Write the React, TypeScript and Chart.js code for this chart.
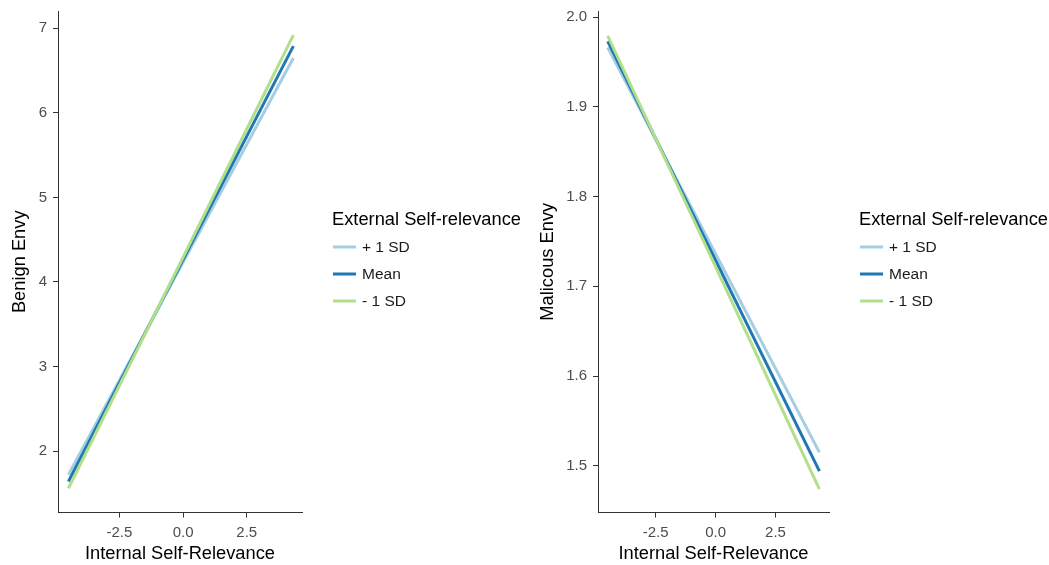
import { useEffect, useRef } from 'react';
import { Chart, registerables } from 'chart.js';

Chart.register(...registerables);

const FONT = '"Liberation Sans", Arial, sans-serif';

// ---- data ----
const xValues = [-4.5, 4.33];
const seriesLabels = ['+ 1 SD', 'Mean', '- 1 SD'];
const seriesColors = ['#a6cee3', '#1f78b4', '#b2df8a'];

const benignPlus = [1.72, 6.65];
const benignMean = [1.64, 6.79];
const benignMinus = [1.56, 6.92];

const maliciousPlus = [1.966, 1.515];
const maliciousMean = [1.973, 1.494];
const maliciousMinus = [1.979, 1.474];

const xTicks = [-2.5, 0, 2.5];
const benignTicks = [2, 3, 4, 5, 6, 7];
const maliciousTicks = [1.5, 1.6, 1.7, 1.8, 1.9, 2.0];

const legendTitle = 'External Self-relevance';
const xTitle = 'Internal Self-Relevance';

type PanelProps = {
  left: number;
  width: number;
  yTitle: string;
  yTitlePad: number;
  yMin: number;
  yMax: number;
  yTicks: number[];
  yDecimals: number;
  xMin: number;
  xMax: number;
  axisX: number;
  plotRight: number;
  series: number[][];
};

const HEIGHT = 565;

function Panel(p: PanelProps) {
  const ref = useRef<HTMLCanvasElement | null>(null);
  useEffect(() => {
    if (!ref.current) return;
    const legendPlugin = {
      id: 'customLegend',
      afterDraw(chart: any) {
        const ctx = chart.ctx as CanvasRenderingContext2D;
        const lx = chart.chartArea.right + 30;
        ctx.save();
        ctx.fillStyle = '#000000';
        ctx.textBaseline = 'middle';
        ctx.textAlign = 'left';
        ctx.font = `18.3px ${FONT}`;
        ctx.fillText(legendTitle, lx, 219.5);
        const ys = [247, 274, 301];
        seriesLabels.forEach((lab, i) => {
          ctx.strokeStyle = seriesColors[i];
          ctx.lineWidth = 3;
          ctx.beginPath();
          ctx.moveTo(lx + 1, ys[i]);
          ctx.lineTo(lx + 24, ys[i]);
          ctx.stroke();
          ctx.fillStyle = '#1a1a1a';
          ctx.font = `15.5px ${FONT}`;
          ctx.fillText(lab, lx + 30, ys[i] + 0.5);
        });
        ctx.restore();
      },
    };
    const order = [3, 2, 1];
    const chart = new Chart(ref.current, {
      type: 'line',
      data: {
        datasets: p.series.map((vals, i) => ({
          label: seriesLabels[i],
          data: xValues.map((x, j) => ({ x, y: vals[j] })),
          borderColor: seriesColors[i],
          backgroundColor: seriesColors[i],
          borderWidth: 3,
          pointRadius: 0,
          tension: 0,
          fill: false,
          order: order[i],
        })),
      },
      options: {
        animation: false,
        responsive: false,
        devicePixelRatio: 1,
        layout: { padding: { left: 0, top: 11, right: p.width - p.plotRight, bottom: 0 } },
        plugins: { legend: { display: false }, tooltip: { enabled: false } },
        scales: {
          x: {
            type: 'linear',
            min: p.xMin,
            max: p.xMax,
            afterBuildTicks: (s: any) => {
              s.ticks = xTicks.map((v) => ({ value: v }));
            },
            afterFit: (s: any) => {
              s.height = HEIGHT - 512.5;
              s.paddingLeft = 0;
              s.paddingRight = 0;
            },
            ticks: {
              callback: (v: any) => Number(v).toFixed(1),
              font: { family: FONT, size: 15 },
              color: '#4d4d4d',
              padding: 6,
              maxRotation: 0,
              autoSkip: false,
            },
            grid: { drawOnChartArea: false, drawTicks: true, tickLength: 5, color: '#333333', tickColor: '#333333' },
            border: { display: true, color: '#333333', width: 1 },
            title: {
              display: true,
              text: xTitle,
              font: { family: FONT, size: 18.3 },
              color: '#000000',
              padding: { top: 0, bottom: 0 },
            },
          },
          y: {
            type: 'linear',
            min: p.yMin,
            max: p.yMax,
            afterBuildTicks: (s: any) => {
              s.ticks = p.yTicks.map((v) => ({ value: v }));
            },
            afterFit: (s: any) => {
              s.width = p.axisX;
              s.paddingTop = 0;
              s.paddingBottom = 0;
            },
            ticks: {
              callback: (v: any) => Number(v).toFixed(p.yDecimals),
              font: { family: FONT, size: 15 },
              color: '#4d4d4d',
              padding: 6,
              autoSkip: false,
            },
            grid: { drawOnChartArea: false, drawTicks: true, tickLength: 5, color: '#333333', tickColor: '#333333' },
            border: { display: true, color: '#333333', width: 1 },
            title: {
              display: true,
              text: p.yTitle,
              font: { family: FONT, size: 18.3 },
              color: '#000000',
              padding: { top: p.yTitlePad, bottom: 0 },
            },
          },
        },
      },
      plugins: [legendPlugin],
    } as any);
    return () => chart.destroy();
  }, []);
  return (
    <canvas
      ref={ref}
      width={p.width}
      height={HEIGHT}
      style={{ position: 'absolute', left: p.left, top: 0, width: p.width, height: HEIGHT }}
    />
  );
}

export default function App() {
  useEffect(() => {
    document.body.style.margin = '0';
  }, []);
  return (
    <div style={{ position: 'fixed', left: 0, top: 0, width: 1049, height: HEIGHT, background: '#ffffff' }}>
      <Panel
        left={0}
        width={525}
        yTitle="Benign Envy"
        yTitlePad={9}
        yMin={1.273}
        yMax={7.205}
        yTicks={benignTicks}
        yDecimals={0}
        xMin={-4.91}
        xMax={4.67}
        axisX={58}
        plotRight={302}
        series={[benignPlus, benignMean, benignMinus]}
      />
      <Panel
        left={525}
        width={524}
        yTitle="Malicous Envy"
        yTitlePad={12}
        yMin={1.448}
        yMax={2.0067}
        yTicks={maliciousTicks}
        yDecimals={1}
        xMin={-4.906}
        xMax={4.73}
        axisX={73}
        plotRight={304}
        series={[maliciousPlus, maliciousMean, maliciousMinus]}
      />
    </div>
  );
}
